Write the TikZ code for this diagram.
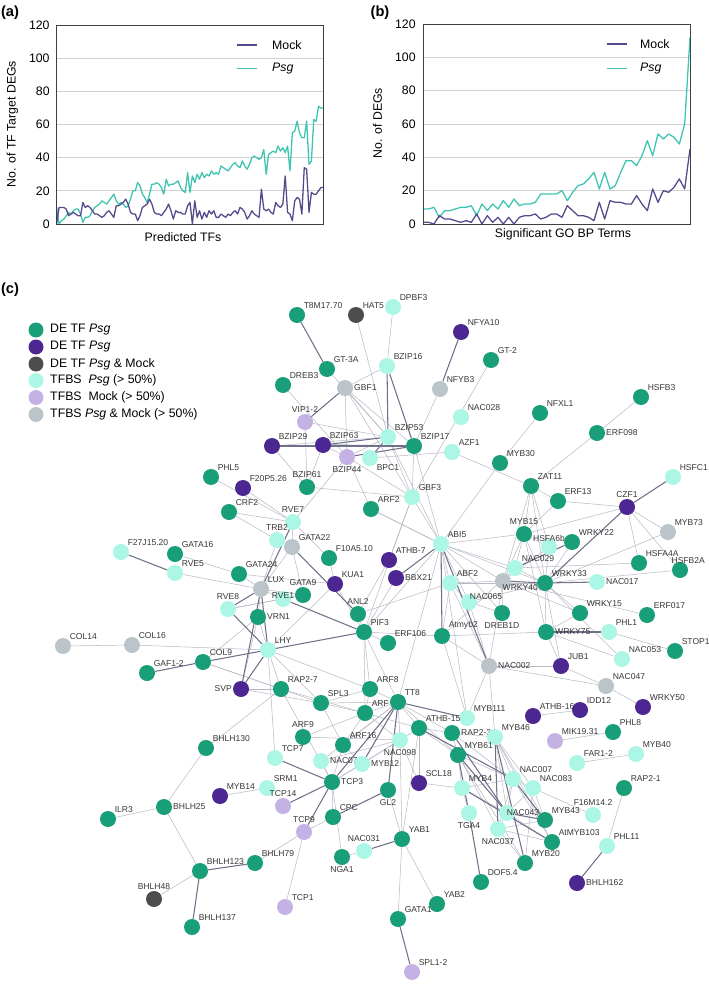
\documentclass[tikz,border=0pt]{standalone}
\usepackage{fontspec}
\setmainfont{Liberation Sans}
\definecolor{tfgreen}{RGB}{24,158,120}
\definecolor{tfpurple}{RGB}{76,38,145}
\definecolor{tfdark}{RGB}{77,77,77}
\definecolor{bscyan}{RGB}{172,246,230}
\definecolor{bslav}{RGB}{196,178,228}
\definecolor{bsgray}{RGB}{186,196,201}
\definecolor{mockc}{RGB}{88,72,140}
\definecolor{psgc}{RGB}{64,196,178}
\definecolor{edgelt}{RGB}{185,185,198}
\definecolor{edgedk}{RGB}{112,112,138}
\definecolor{labc}{RGB}{55,55,55}
\pgfdeclarelayer{bg}
\pgfsetlayers{bg,main}
\tikzset{
  tf/.style={circle,minimum size=0.48cm,inner sep=0pt},
  gn/.style={tf,fill=tfgreen},
  pu/.style={tf,fill=tfpurple},
  dk/.style={tf,fill=tfdark},
  cy/.style={tf,fill=bscyan},
  lv/.style={tf,fill=bslav},
  gy/.style={tf,fill=bsgray},
  lab/.style={font=\fontsize{7.3}{8}\selectfont,text=labc,inner sep=0.6pt},
  lk/.style={edgelt,line width=0.45pt},
  hk/.style={edgedk,line width=0.9pt},
  frame/.style={draw=black!75,line width=0.6pt},
  gridln/.style={black!18,line width=0.6pt},
  ticklab/.style={font=\fontsize{10.5}{12}\selectfont,anchor=east,inner sep=1pt},
  axlab/.style={font=\fontsize{10.5}{12}\selectfont},
  mockln/.style={mockc,line width=1.1pt,line join=round},
  psgln/.style={psgc,line width=1.1pt,line join=round},
  panel/.style={font=\fontsize{12.5}{14}\selectfont\bfseries},
  legtxt/.style={font=\fontsize{10.5}{12}\selectfont,anchor=west,inner sep=0pt},
  legdot/.style={circle,minimum size=0.45cm,inner sep=0pt}
}
\begin{document}
\begin{tikzpicture}[x=0.03cm,y=-0.03cm]
\useasboundingbox (0,0) rectangle (709,990);

% (a) targets per predicted TF
\node[panel] (pa) at (10,13) {(a)};
\foreach \v in {20,40,...,100}
  \draw[gridln] (56.7,{224-\v*1.658}) -- (323.3,{224-\v*1.658});
\foreach \v in {0,20,...,120}
  \node[ticklab] at (51,{224-\v*1.658}) {\v};
\draw[psgln] (56.7,{224-10*1.658}) \foreach \v [count=\i] in {0,2,3,5,7,6,8,9,9,6,1,4,4,5,8,10,11,12,14,13,12,14,16,18,14,12,13,12,10,11,15,20,20,25,23,18,16,13,18,24,24,25,24,22,18,27,23,24,24,25,26,22,20,19,31,19,29,25,30,27,31,28,30,29,32,30,31,30,35,34,33,32,34,36,37,35,34,38,35,33,36,40,41,40,39,40,45,30,42,43,44,43,47,44,46,43,47,32,55,56,62,55,52,52,62,36,38,63,62,71,70,70} { -- ({56.7+\i/112*266.6},{224-\v*1.658}) };
\draw[mockln] (56.7,224) \foreach \v [count=\i] in {10,10,10,9,5,6,7,6,5,5,13,10,11,10,8,6,6,5,4,5,7,8,6,4,11,11,12,13,15,12,7,6,6,2,5,10,11,12,15,12,7,6,6,5,7,9,12,8,3,8,7,7,6,6,11,13,0,14,4,8,3,7,4,8,6,8,4,4,6,5,4,6,5,7,8,6,10,9,7,3,5,8,6,5,4,21,9,8,9,7,6,13,11,10,12,29,7,6,2,14,16,15,6,34,33,7,19,18,18,20,22,22} { -- ({56.7+\i/112*266.6},{224-\v*1.658}) };
\draw[frame] (56.7,25) rectangle (323.3,224);
\draw[mockln] (236.7,45) -- (256.7,45);
\node[legtxt] (ma) at (272,45) {Mock};
\draw[psgln] (236.7,68.5) -- (256.7,68.5);
\node[legtxt] (sa) at (272,68.5) {\textit{Psg}};
\node[axlab] (xa) at (183,237) {Predicted TFs};
\node[axlab,rotate=90] (ya) at (12.5,124) {No. of TF Target DEGs};

% (b) DEGs per GO BP term
\node[panel] (pb) at (380,13) {(b)};
\foreach \v in {20,40,...,100}
  \draw[gridln] (423.3,{224-\v*1.667}) -- (690,{224-\v*1.667});
\foreach \v in {0,20,...,120}
  \node[ticklab] at (417,{224-\v*1.667}) {\v};
\draw[psgln] (423.3,{224-9*1.667}) \foreach \v [count=\i] in {9,10,4,8,8,9,10,10,11,5,12,8,12,9,14,10,15,11,12,12,13,18,18,18,18,20,14,19,23,24,27,31,21,31,21,23,31,38,38,35,41,50,41,54,51,54,52,48,60,112} { -- ({423.3+\i/50*266.7},{224-\v*1.667}) };
\draw[mockln] (423.3,{224-1*1.667}) \foreach \v [count=\i] in {1,0,5,3,3,2,1,2,1,6,0,5,1,4,0,4,0,4,5,5,6,3,4,6,6,4,11,8,5,5,4,2,13,3,14,13,13,12,12,17,12,8,21,13,20,19,22,27,21,45} { -- ({423.3+\i/50*266.7},{224-\v*1.667}) };
\draw[frame] (423.3,24) rectangle (690,224);
\draw[mockln] (606.7,44) -- (626.7,44);
\node[legtxt] (mb) at (640,44) {Mock};
\draw[psgln] (606.7,68.5) -- (626.7,68.5);
\node[legtxt] (sb) at (640,68.5) {\textit{Psg}};
\node[axlab] (xb) at (563,234) {Significant GO BP Terms};
\node[axlab,rotate=90] (yb) at (377.5,123) {No. of DEGs};

% (c) legend
\node[panel] (pc) at (10,290) {(c)};
\node[legdot,fill=tfgreen] (leg1) at (36,330) {};
\node[legdot,fill=tfpurple] (leg2) at (36,347) {};
\node[legdot,fill=tfdark] (leg3) at (36,364) {};
\node[legdot,fill=bscyan] (leg4) at (36,380.5) {};
\node[legdot,fill=bslav] (leg5) at (36,397.5) {};
\node[legdot,fill=bsgray] (leg6) at (36,414.5) {};
\node[legtxt] at (50,330) {DE TF \textit{Psg}};
\node[legtxt] at (50,347) {DE TF \textit{Psg}};
\node[legtxt] at (50,364) {DE TF \textit{Psg} \& Mock};
\node[legtxt] at (50,380.5) {TFBS\ \ \textit{Psg} (> 50\%)};
\node[legtxt] at (50,397.5) {TFBS\ \ Mock (> 50\%)};
\node[legtxt] at (50,414.5) {TFBS \textit{Psg} \& Mock (> 50\%)};

% (c) network nodes
\node[gn,label={[lab]above right:T8M17.70}] (t8m) at (297,315) {};
\node[dk,label={[lab]above right:HAT5}] (hat5) at (356,315) {};
\node[cy,label={[lab]above right:DPBF3}] (dpbf3) at (393,307) {};
\node[pu,label={[lab]above right:NFYA10}] (nfya10) at (461,332) {};
\node[gn,label={[lab]above right:GT-2}] (gt2) at (491,360) {};
\node[cy,label={[lab]above right:BZIP16}] (bzip16) at (387,366) {};
\node[gn,label={[lab]above right:GT-3A}] (gt3a) at (327,369) {};
\node[gn,label={[lab]above right:DREB3}] (dreb3) at (283,385) {};
\node[gy,label={[lab]right:GBF1}] (gbf1) at (345,388) {};
\node[gy,label={[lab]above right:NFYB3}] (nfyb3) at (440,389) {};
\node[gn,label={[lab]above right:HSFB3}] (hsfb3) at (641,397) {};
\node[gn,label={[lab]above right:NFXL1}] (nfxl1) at (540,413) {};
\node[cy,label={[lab]above right:NAC028}] (nac028) at (461,417) {};
\node[lv,label={[lab]above:VIP1-2}] (vip12) at (305,422) {};
\node[gn,label={[lab]right:ERF098}] (erf098) at (597,433) {};
\node[cy,label={[lab]above right:BZIP53}] (bzip53) at (388,437) {};
\node[pu,label={[lab]above right:BZIP29}] (bzip29) at (272,446) {};
\node[pu,label={[lab]above right:BZIP63}] (bzip63) at (323,445) {};
\node[gn,label={[lab]above right:BZIP17}] (bzip17) at (414,446) {};
\node[cy,label={[lab]above right:AZF1}] (azf1) at (452,452) {};
\node[lv,label={[lab]below:BZIP44}] (bzip44) at (347,457) {};
\node[cy,label={[lab]below right:BPC1}] (bpc1) at (370,458) {};
\node[gn,label={[lab]above right:MYB30}] (myb30) at (500,463) {};
\node[gn,label={[lab]above right:PHL5}] (phl5) at (211,477) {};
\node[cy,label={[lab]above right:HSFC1}] (hsfc1) at (673,477) {};
\node[gn,label={[lab]above right:ZAT11}] (zat11) at (531,486) {};
\node[pu,label={[lab]above right:F20P5.26}] (f20p5) at (243,488) {};
\node[gn,label={[lab]above:BZIP61}] (bzip61) at (307,487) {};
\node[cy,label={[lab]above right:GBF3}] (gbf3) at (412,497) {};
\node[gn,label={[lab]above right:ERF13}] (erf13) at (558,501) {};
\node[pu,label={[lab]above:CZF1}] (czf1) at (627,507) {};
\node[gn,label={[lab]above right:ARF2}] (arf2) at (371,509) {};
\node[gn,label={[lab]above right:CRF2}] (crf2) at (229,512) {};
\node[cy,label={[lab]above:RVE7}] (rve7) at (293,522) {};
\node[gy,label={[lab]above right:MYB73}] (myb73) at (668,532) {};
\node[gn,label={[lab]above:MYB15}] (myb15) at (524,534) {};
\node[cy,label={[lab]above:TRB2}] (trb2) at (277,540) {};
\node[gn,label={[lab]above right:WRKY22}] (wrky22) at (572,542) {};
\node[cy,label={[lab]above right:ABI5}] (abi5) at (441,544) {};
\node[gy,label={[lab]above right:GATA22}] (gata22) at (292,547) {};
\node[cy,label={[lab,yshift=-3pt]above:HSFA6b}] (hsfa6b) at (549,547) {};
\node[cy,label={[lab]above right:F27J15.20}] (f27j) at (121,552) {};
\node[gn,label={[lab]above right:GATA16}] (gata16) at (175,554) {};
\node[gn,label={[lab]above right:F10A5.10}] (f10a5) at (329,558) {};
\node[pu,label={[lab]above right:ATHB-7}] (athb7) at (389,560) {};
\node[gn,label={[lab]above right:HSFA4A}] (hsfa4a) at (639,563) {};
\node[cy,label={[lab]above right:NAC029}] (nac029) at (515,568) {};
\node[gn,label={[lab,xshift=7pt,yshift=-2pt]above:HSFB2A}] (hsfb2a) at (680,570) {};
\node[cy,label={[lab]above right:RVE5}] (rve5) at (175,573) {};
\node[gn,label={[lab]above right:GATA24}] (gata24) at (239,574) {};
\node[pu,label={[lab]right:BBX21}] (bbx21) at (396,578) {};
\node[gy,label={[lab,xshift=-6pt,yshift=3pt]below right:WRKY40}] (wrky40) at (503,581) {};
\node[cy,label={[lab]right:NAC017}] (nac017) at (597,582) {};
\node[cy,label={[lab]above right:ABF2}] (abf2) at (450,583) {};
\node[gn,label={[lab]above right:WRKY33}] (wrky33) at (545,583) {};
\node[pu,label={[lab]above right:KUA1}] (kua1) at (335,584) {};
\node[gy,label={[lab]above right:LUX}] (lux) at (261,589) {};
\node[gn,label={[lab]above:GATA9}] (gata9) at (303,595) {};
\node[cy,label={[lab,yshift=-7pt]above:RVE1}] (rve1) at (283,599) {};
\node[cy,label={[lab,xshift=-5pt,yshift=-4pt]above right:NAC065}] (nac065) at (469,602) {};
\node[cy,label={[lab]above:RVE8}] (rve8) at (228,609) {};
\node[gn,label={[lab]above:ANL2}] (anl2) at (358,614) {};
\node[gn,label={[lab]below:DREB1D}] (dreb1d) at (502,613) {};
\node[gn,label={[lab]above right:WRKY15}] (wrky15) at (580,613) {};
\node[gn,label={[lab]above right:ERF017}] (erf017) at (647,615) {};
\node[gn,label={[lab]right:VRN1}] (vrn1) at (258,617) {};
\node[gn,label={[lab]above right:PIF3}] (pif3) at (364,632) {};
\node[gn,label={[lab]right:WRKY75}] (wrky75) at (546,632) {};
\node[cy,label={[lab]above right:PHL1}] (phl1) at (609,632) {};
\node[gn,label={[lab]above right:Atmyb2}] (atmyb2) at (442,636) {};
\node[gn,label={[lab]above right:ERF106}] (erf106) at (388,643) {};
\node[gy,label={[lab]above right:COL16}] (col16) at (132,645) {};
\node[gy,label={[lab]above right:COL14}] (col14) at (63,646) {};
\node[cy,label={[lab]above right:LHY}] (lhy) at (268,650) {};
\node[gn,label={[lab]above right:STOP1}] (stop1) at (675,651) {};
\node[cy,label={[lab]above right:NAC053}] (nac053) at (622,659) {};
\node[gn,label={[lab]above right:COL9}] (col9) at (203,662) {};
\node[gy,label={[lab]right:NAC002}] (nac002) at (489,666) {};
\node[pu,label={[lab]above right:JUB1}] (jub1) at (561,666) {};
\node[gn,label={[lab]above right:GAF1-2}] (gaf12) at (147,673) {};
\node[gy,label={[lab]above right:NAC047}] (nac047) at (606,686) {};
\node[pu,label={[lab]left:SVP}] (svp) at (241,689) {};
\node[gn,label={[lab]above right:RAP2-7}] (rap27) at (281,689) {};
\node[gn,label={[lab]above right:ARF8}] (arf8) at (370,689) {};
\node[gn,label={[lab]above right:SPL3}] (spl3) at (321,703) {};
\node[pu,label={[lab]above right:WRKY50}] (wrky50) at (643,707) {};
\node[pu,label={[lab]above right:IDD12}] (idd12) at (580,710) {};
\node[gn,label={[lab]above right:ARF}] (arfx) at (365,713) {};
\node[gn,label={[lab]above right:TT8}] (tt8) at (398,702) {};
\node[pu,label={[lab]above right:ATHB-16}] (athb16) at (533,716) {};
\node[cy,label={[lab]above right:MYB111}] (myb111) at (467,718) {};
\node[gn,label={[lab]above right:ATHB-15}] (athb15) at (419,728) {};
\node[gn,label={[lab]right:RAP2-3}] (rap23) at (452,733) {};
\node[gn,label={[lab]above right:PHL8}] (phl8) at (613,732) {};
\node[gn,label={[lab]above:ARF9}] (arf9) at (303,737) {};
\node[cy,label={[lab]above right:MYB46}] (myb46) at (495,737) {};
\node[cy,label={[lab]below:NAC098}] (nac098) at (400,740) {};
\node[lv,label={[lab]above right:MIK19.31}] (mik) at (555,741) {};
\node[gn,label={[lab]above right:ARF16}] (arf16) at (343,745) {};
\node[gn,label={[lab]above right:BHLH130}] (bhlh130) at (206,748) {};
\node[cy,label={[lab]above right:MYB40}] (myb40) at (636,754) {};
\node[gn,label={[lab]above right:MYB61}] (myb61) at (458,755) {};
\node[cy,label={[lab]above right:TCP7}] (tcp7) at (275,758) {};
\node[cy,label={[lab]right:NAC071}] (nac071) at (321,761) {};
\node[cy,label={[lab]above right:FAR1-2}] (far12) at (577,763) {};
\node[cy,label={[lab]right:MYB12}] (myb12) at (362,764) {};
\node[cy,label={[lab]above right:NAC007}] (nac007) at (513,779) {};
\node[gn,label={[lab]right:TCP3}] (tcp3) at (332,782) {};
\node[pu,label={[lab]above right:SCL18}] (scl18) at (419,783) {};
\node[cy,label={[lab]above right:MYB4}] (myb4) at (462,788) {};
\node[cy,label={[lab]above right:SRM1}] (srm1) at (267,788) {};
\node[cy,label={[lab]above right:NAC083}] (nac083) at (533,788) {};
\node[gn,label={[lab]above right:RAP2-1}] (rap21) at (624,788) {};
\node[gn,label={[lab]below:GL2}] (gl2) at (388,790) {};
\node[pu,label={[lab]above right:MYB14}] (myb14) at (220,796) {};
\node[lv,label={[lab]above:TCP14}] (tcp14) at (283,806) {};
\node[gn,label={[lab]right:BHLH25}] (bhlh25) at (164,807) {};
\node[cy,label={[lab,xshift=-8pt]right:NAC043}] (nac043) at (507,813) {};
\node[cy,label={[lab]below:TGA4}] (tga4) at (469,813) {};
\node[cy,label={[lab]above:F16M14.2}] (f16m) at (593,815) {};
\node[gn,label={[lab]above right:CPC}] (cpc) at (333,817) {};
\node[gn,label={[lab]above right:ILR3}] (ilr3) at (108,819) {};
\node[gn,label={[lab]above right:MYB43}] (myb43) at (545,820) {};
\node[cy,label={[lab]below:NAC037}] (nac037) at (498,829) {};
\node[lv,label={[lab]above:TCP9}] (tcp9) at (304,832) {};
\node[gn,label={[lab]above right:YAB1}] (yab1) at (402,839) {};
\node[gn,label={[lab]above right:AtMYB103}] (atmyb103) at (552,842) {};
\node[cy,label={[lab]above right:PHL11}] (phl11) at (607,846) {};
\node[cy,label={[lab]above:NAC031}] (nac031) at (364,851) {};
\node[gn,label={[lab]below:NGA1}] (nga1) at (342,857) {};
\node[gn,label={[lab]above right:BHLH79}] (bhlh79) at (255,863) {};
\node[gn,label={[lab]above right:MYB20}] (myb20) at (525,863) {};
\node[gn,label={[lab]above right:BHLH123}] (bhlh123) at (200,871) {};
\node[gn,label={[lab]above right:DOF5.4}] (dof54) at (481,882) {};
\node[pu,label={[lab]right:BHLH162}] (bhlh162) at (577,883) {};
\node[dk,label={[lab]above:BHLH48}] (bhlh48) at (154,899) {};
\node[gn,label={[lab]above right:YAB2}] (yab2) at (437,904) {};
\node[lv,label={[lab]above right:TCP1}] (tcp1) at (285,907) {};
\node[gn,label={[lab]above right:GATA1}] (gata1) at (398,919) {};
\node[gn,label={[lab]above right:BHLH137}] (bhlh137) at (192,927) {};
\node[lv,label={[lab]above right:SPL1-2}] (spl12) at (412,972) {};

% (c) network edges, under the nodes
\begin{pgfonlayer}{bg}
\foreach \a/\b in {hat5/bzip53,dpbf3/bzip16,nfyb3/bzip17,gt2/gbf3,bzip16/gbf1,gt3a/bzip53,dreb3/bzip44,gbf1/bzip53,gbf1/bzip17,gbf1/bzip44,gbf1/gbf3,vip12/bzip53,vip12/bzip61,bzip29/bzip53,bzip29/bzip61,bzip63/bzip61,bzip63/bzip44,bzip44/bzip53,bzip44/gbf3,bzip44/rve7,bzip44/arf2,bpc1/azf1,azf1/zat11,myb30/nfxl1,myb30/abi5,erf098/hsfb3,erf098/zat11,zat11/erf13,zat11/myb15,zat11/hsfa6b,zat11/wrky33,zat11/wrky40,erf13/czf1,erf13/myb15,czf1/myb73,czf1/hsfa4a,czf1/hsfb2a,czf1/myb15,phl5/rve7,f20p5/rve7,crf2/trb2,crf2/rve7,bzip53/gbf3,bzip53/abi5,bzip17/abi5,bzip17/gbf3,gbf3/abi5,gbf3/pif3,gbf3/athb7,gbf3/bzip61,arf2/abi5,rve7/gata22,rve7/f10a5,trb2/lux,gata22/lux,gata22/gata9,gata16/gata24,rve5/lux,gata24/kua1,gata24/lux,f10a5/kua1,kua1/lhy,kua1/pif3,gata9/rve8,gata9/lux,rve1/lux,rve1/rve8,vrn1/lux,vrn1/col9,vrn1/lhy,vrn1/svp,col14/col16,col16/lhy,lhy/rap27,lhy/spl3,lhy/tcp7,lhy/arf8,col9/rap27,col9/spl3,svp/rap27,svp/spl3,rap27/arfx,rap27/bhlh130,spl3/arf8,spl3/tt8,spl3/arfx,spl3/arf16,athb7/anl2,bbx21/pif3,anl2/pif3,pif3/tt8,pif3/arf8,pif3/arfx,pif3/erf106,pif3/abi5,abi5/abf2,abi5/nac065,abi5/dreb1d,abi5/wrky40,abi5/wrky33,abi5/tt8,abi5/arf2,abi5/myb111,abi5/myb15,abi5/nac029,abf2/wrky40,abf2/atmyb2,abf2/nac065,abf2/anl2,abf2/wrky33,abf2/nac002,wrky40/nac029,wrky40/dreb1d,wrky40/myb15,wrky40/nac002,wrky40/hsfa6b,wrky40/wrky15,wrky33/myb15,wrky33/hsfa6b,wrky33/wrky22,wrky33/wrky15,wrky33/wrky75,wrky33/jub1,wrky33/hsfb2a,wrky33/nac029,wrky33/myb73,wrky40/erf017,nac029/myb15,nac029/hsfa4a,nac029/atmyb2,nac065/dreb1d,nac065/nac002,nac065/wrky33,myb15/wrky75,myb15/hsfa6b,wrky75/jub1,wrky75/atmyb2,wrky75/nac053,wrky75/wrky15,phl1/stop1,nac053/wrky33,atmyb2/nac002,atmyb2/pif3,atmyb2/myb111,nac002/jub1,nac002/nac047,nac002/myb111,nac002/myb46,jub1/nac047,nac047/wrky50,athb16/idd12,mik/phl8,far12/myb40,rap21/phl11,nac083/f16m,tt8/arfx,tt8/arf8,tt8/athb15,tt8/nac098,tt8/rap23,tt8/myb61,tt8/arf16,tt8/nac071,arf8/arfx,arfx/arf9,arfx/arf16,arfx/nac098,arfx/athb15,arf9/nac098,arf16/tcp3,arf16/myb12,nac071/tcp3,nac071/nac098,myb12/tcp3,myb12/nac098,athb15/rap23,athb15/yab1,athb15/myb61,athb15/nac098,athb15/scl18,rap23/myb46,rap23/myb61,rap23/nac007,myb61/nac007,myb61/myb4,myb61/nac037,myb61/myb20,myb46/nac043,myb46/atmyb103,myb46/myb43,myb46/nac083,myb46/nac007,nac007/nac043,nac007/atmyb103,nac007/nac083,nac007/nac037,nac083/nac043,nac083/myb20,nac083/myb43,nac043/nac037,nac043/atmyb103,nac037/myb43,nac037/atmyb103,nac037/myb20,myb4/nac043,myb4/tga4,myb4/nac007,scl18/myb4,scl18/nac098,gl2/yab1,yab1/gata1,yab1/yab2,yab1/nac098,tcp3/cpc,tcp3/nga1,tcp3/nac098,tcp9/tcp1,tcp9/bhlh79,tcp9/cpc,nga1/nac031,srm1/myb14,bhlh130/bhlh25,ilr3/bhlh25,bhlh25/bhlh123,bhlh123/bhlh48,rap27/tcp3}
  \draw[lk] (\a) -- (\b);
\foreach \a/\b in {t8m/gt3a,nfya10/nfyb3,bzip16/bzip17,bzip16/bzip53,gbf1/vip12,bzip29/bzip17,bzip63/bzip17,bzip63/bzip53,bzip44/bzip17,bpc1/bzip53,hsfc1/czf1,czf1/wrky33,f27j/rve5,rve7/lux,lux/rve8,lux/lhy,lux/svp,gata22/anl2,rve1/pif3,rve8/lhy,col9/pif3,gaf12/col9,abi5/nac002,abi5/bbx21,abi5/atmyb2,wrky40/wrky33,wrky33/nac017,nac029/wrky22,wrky75/phl1,tt8/myb12,tt8/gl2,tt8/myb111,tt8/tcp3,athb15/nac007,rap23/nac043,myb61/tga4,myb46/nac037,myb46/myb20,tga4/dof54,yab1/nac031,gata1/spl12,gl2/cpc,tcp3/tcp7,tcp3/tcp14,tcp3/tcp9,phl11/bhlh162,bhlh123/bhlh79,bhlh123/bhlh137,svp/lhy,myb61/nac043,nac007/myb43,myb4/atmyb103,nac043/myb43}
  \draw[hk] (\a) -- (\b);
\end{pgfonlayer}
\end{tikzpicture}
\end{document}
